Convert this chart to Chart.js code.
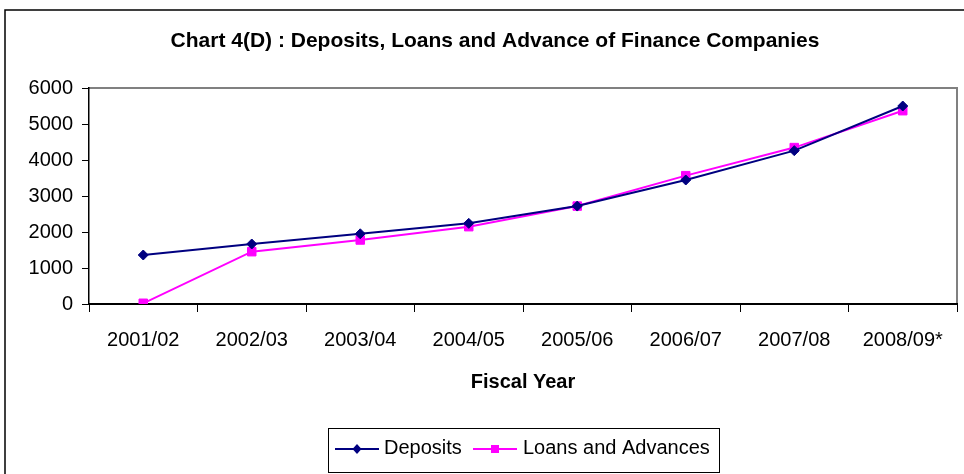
<!DOCTYPE html>
<html>
<head>
<meta charset="utf-8">
<script src="https://cdn.jsdelivr.net/npm/chart.js@4"></script>
<style>
    html, body { margin: 0; padding: 0; background: #fff; }
    #wrap { width: 964px; height: 474px; }
</style>
</head>
<body>
<div id="wrap"><canvas id="financeChart" width="964" height="474"></canvas></div>
<script>
// --- Data ---
const categories = ['2001/02', '2002/03', '2003/04', '2004/05', '2005/06', '2006/07', '2007/08', '2008/09*'];
const deposits = [1361, 1667, 1950, 2240, 2720, 3444, 4260, 5500];
const loansAdvances = [20, 1453, 1778, 2148, 2720, 3565, 4345, 5370];
const yTicks = [0, 1000, 2000, 3000, 4000, 5000, 6000];

const chartTitle = 'Chart 4(D) : Deposits, Loans and Advance of Finance Companies';
const FONT = '"Liberation Sans", Arial, sans-serif';

// Outer frame, plot border, title and boxed legend (Excel style)
const excelDecor = {
    id: 'excelDecor',
    beforeDraw(chart) {
        const { ctx, chartArea: a } = chart;
        ctx.save();
        // chart frame
        ctx.strokeStyle = '#000';
        ctx.lineWidth = 1.5;
        ctx.beginPath();
        ctx.moveTo(5, 480);
        ctx.lineTo(5, 10);
        ctx.lineTo(970, 10);
        ctx.stroke();
        // plot area border (top / right)
        ctx.strokeStyle = '#808080';
        ctx.lineWidth = 2;
        ctx.beginPath();
        ctx.moveTo(a.left, a.top);
        ctx.lineTo(a.right, a.top);
        ctx.lineTo(a.right, a.bottom);
        ctx.stroke();
        // title
        ctx.fillStyle = '#000';
        ctx.font = 'bold 21px ' + FONT;
        ctx.textAlign = 'center';
        ctx.textBaseline = 'middle';
        ctx.fillText(chartTitle, 495, 41);
        ctx.restore();
    },
    afterDraw(chart) {
        const { ctx } = chart;
        ctx.save();
        ctx.strokeStyle = '#000';
        ctx.lineWidth = 1;
        ctx.fillStyle = '#fff';
        ctx.fillRect(328, 428, 391, 44);
        ctx.strokeRect(328.5, 428.5, 391, 44);

        ctx.font = '20px ' + FONT;
        ctx.textBaseline = 'middle';
        ctx.textAlign = 'left';
        const items = [{ x: 335, textX: 384 }, { x: 473, textX: 523 }];
        chart.data.datasets.forEach((ds, i) => {
            const it = items[i];
            const y = 449;
            ctx.strokeStyle = ds.borderColor;
            ctx.lineWidth = 2;
            ctx.beginPath();
            ctx.moveTo(it.x, y);
            ctx.lineTo(it.x + 44, y);
            ctx.stroke();
            const cx = it.x + 22;
            ctx.fillStyle = ds.pointBackgroundColor;
            ctx.beginPath();
            if (ds.pointStyle === 'rectRot') {
                ctx.moveTo(cx, y - 5);
                ctx.lineTo(cx + 4.5, y);
                ctx.lineTo(cx, y + 5);
                ctx.lineTo(cx - 4.5, y);
                ctx.closePath();
            } else {
                ctx.rect(cx - 4, y - 4, 8, 8);
            }
            ctx.fill();
            ctx.fillStyle = '#000';
            ctx.fillText(ds.label, it.textX, y - 1);
        });
        ctx.restore();
    }
};

new Chart(document.getElementById('financeChart'), {
    type: 'line',
    data: {
        labels: categories,
        datasets: [{
            label: 'Deposits',
            data: deposits,
            borderColor: '#000080',
            backgroundColor: '#000080',
            pointBackgroundColor: '#000080',
            pointBorderColor: '#000080',
            pointStyle: 'rectRot',
            pointRadius: 5,
            pointBorderWidth: 1,
            borderWidth: 2,
            tension: 0
        }, {
            label: 'Loans and Advances',
            data: loansAdvances,
            borderColor: '#FF00FF',
            backgroundColor: '#FF00FF',
            pointBackgroundColor: '#FF00FF',
            pointBorderColor: '#FF00FF',
            pointStyle: 'rect',
            pointRadius: 6,
            pointBorderWidth: 1,
            borderWidth: 2,
            tension: 0
        }]
    },
    options: {
        responsive: false,
        animation: false,
        layout: { padding: { top: 88, left: 0, right: 3, bottom: 60 } },
        plugins: {
            legend: { display: false },
            title: { display: false },
            tooltip: { enabled: false }
        },
        scales: {
            x: {
                offset: true,
                afterFit: (s) => { s.height = 110; },
                grid: { drawOnChartArea: false, drawTicks: true, tickLength: 8, color: '#000', offset: true },
                border: { color: '#000', width: 2 },
                ticks: { color: '#000', padding: 16, maxRotation: 0, font: { family: FONT, size: 20 } },
                title: {
                    display: true,
                    text: 'Fiscal Year',
                    color: '#000',
                    font: { family: FONT, size: 20, weight: 'bold' },
                    padding: { top: 0, bottom: 20 }
                }
            },
            y: {
                min: 0,
                max: 6000,
                afterFit: (s) => { s.width = 89; },
                afterBuildTicks: (s) => { s.ticks = yTicks.map(v => ({ value: v })); },
                grid: { drawOnChartArea: false, drawTicks: true, tickLength: 7, color: '#000' },
                border: { color: '#000', width: 1.5 },
                ticks: {
                    color: '#000',
                    padding: 9,
                    font: { family: FONT, size: 20 },
                    callback: (v) => String(v)
                }
            }
        }
    },
    plugins: [excelDecor]
});
</script>
</body>
</html>
